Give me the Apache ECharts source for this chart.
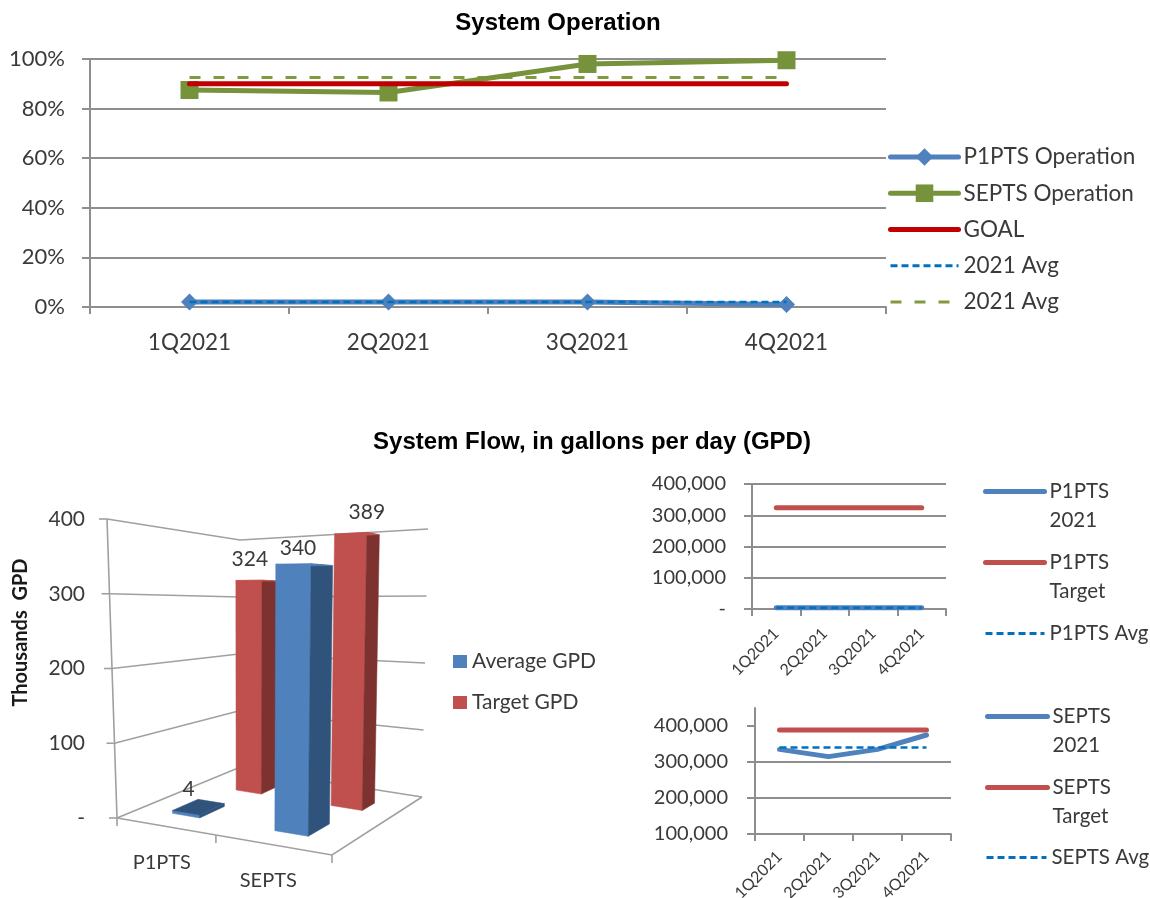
<!DOCTYPE html>
<html><head><meta charset="utf-8">
<script src="https://cdn.jsdelivr.net/npm/echarts@6/dist/echarts.min.js"></script>
<style>html,body{margin:0;padding:0;background:#fff}#c{width:1150px;height:898px}</style>
</head><body><div id="c"></div>
<script>
var quarters = ['1Q2021','2Q2021','3Q2021','4Q2021'];
var p1Operation = [2,2,2,1];
var sepOperation = [87.5,86.5,98,99.5];
var goal = [90,90,90,90];
var p1OpAvg = [2,2,2,2];
var sepOpAvg = [92.5,92.5,92.5,92.5];
var plants = ['P1PTS','SEPTS'];
var averageGpd = [4,340];
var targetGpd = [324,389];
var gpdTicks = [0,100,200,300,400];
var p1Flow = [4000,4000,4000,4000];
var p1Target = [324000,324000,324000,324000];
var p1Avg = [4000,4000,4000,4000];
var sepFlow = [335000,315000,335000,375000];
var sepTarget = [389000,389000,389000,389000];
var sepAvg = [340000,340000,340000,340000];

var FONT='Lato', TXT='#3a3a3a', GRAY='#8e8e8e';
var BLUE='#4f81bd', GREEN='#76933c', DRED='#c00000', RED='#c0504d', ABLUE='#0070c0', AGREEN='#7f9a3f';

function money(v){return v===0?'-':v.toLocaleString('en-US');}
function makeX(idx,extra){return Object.assign({type:'category',gridIndex:idx,data:quarters,boundaryGap:true,
  axisLine:{show:true,lineStyle:{color:GRAY,width:2}},
  axisTick:{show:true,alignWithLabel:false,length:7,lineStyle:{color:GRAY,width:2}}},extra||{});}
function makeY(idx,extra){return Object.assign({type:'value',gridIndex:idx,
  axisLine:{show:true,lineStyle:{color:GRAY,width:2}},
  axisTick:{show:true,length:8,lineStyle:{color:GRAY,width:2}},
  splitLine:{show:true,lineStyle:{color:GRAY,width:2}}},extra||{});}
function line(name,data,color,idx,o){o=o||{};return {type:'line',name:name,data:data,xAxisIndex:idx,yAxisIndex:idx,
  smooth:false,symbol:o.symbol||'none',symbolSize:o.size||0,showSymbol:!!o.symbol,
  itemStyle:{color:color},lineStyle:{color:color,width:o.width||5,type:o.dash||'solid',cap:o.cap||'round'},
  animation:false,z:o.z||3};}
function li(name,color,width,dash,keepSymbol){
  var d={name:name,lineStyle:{color:color,width:width,type:dash||'solid',opacity:1}};
  if(!keepSymbol){d.itemStyle={opacity:0};}
  return d;
}

/* ---- pseudo-3D projection for the bar panel ---- */
var FL=[117,818],FR=[332,855],BL=[238,768],BR=[422,797];
var HT={fl:299,fr:345,bl:228,br:268}, SH={fl:-10,fr:6,bl:2,br:6};
function bil(a,b,c,d,u,w){return (1-w)*((1-u)*a+u*b)+w*((1-u)*c+u*d);}
function proj(u,w,t){
  var x=bil(FL[0],FR[0],BL[0],BR[0],u,w), y=bil(FL[1],FR[1],BL[1],BR[1],u,w);
  return [x+t*bil(SH.fl,SH.fr,SH.bl,SH.br,u,w), y-t*bil(HT.fl,HT.fr,HT.bl,HT.br,u,w)];
}
function frac(api,params,cat,val){
  var cs=params.coordSys, p=api.coord([cat,val]);
  return {f:(p[0]-cs.x)/cs.width,t:(cs.y+cs.height-p[1])/cs.height};
}
function poly(pts,fill){return {type:'polygon',shape:{points:pts},style:{fill:fill,stroke:fill,lineWidth:0.5}};}
function barItem(row,front,side,nudges){
  return function(params,api){
    var cat=api.value(0), val=api.value(1), q=frac(api,params,cat,val);
    var uc=-0.0375+1.01*q.f+(row==='back'?0.04:0);
    var hw=0.065+(q.f-0.25)*0.03;
    var w0=row==='back'?0.68:0.2, w1=row==='back'?0.81:0.42;
    var u0=uc-hw,u1=uc+hw,t=q.t;
    var a=proj(u0,w0,0),b=proj(u1,w0,0),c=proj(u1,w1,0);
    var at=proj(u0,w0,t),bt=proj(u1,w0,t),ct=proj(u1,w1,t),dt=proj(u0,w1,t);
    var n=nudges[cat];
    return {type:'group',children:[
      poly([a,b,bt,at],front),
      poly([b,c,ct,bt],side),
      poly([at,bt,ct,dt],val<20?side:front),
      {type:'text',style:{text:String(val),x:bt[0]+n[0],y:bt[1]+n[1],fill:TXT,font:'21px '+FONT,align:'center',verticalAlign:'middle'}}
    ]};
  };
}
function wallItem(params,api){
  var v=api.value(1), t=frac(api,params,0,v).t;
  var s={stroke:'#a0a0a0',lineWidth:1.6,fill:null};
  var kids=[{type:'polyline',shape:{points:[proj(0,0,t),proj(0,1,t),proj(1,1,t)]},style:s}];
  var f=proj(0,0,t);
  kids.push({type:'line',shape:{x1:f[0]-8,y1:f[1],x2:f[0],y2:f[1]},style:s});
  if(v===0){
    kids.push({type:'polyline',shape:{points:[proj(0,0,0),proj(1,0,0),proj(1,1,0)]},style:s});
    kids.push({type:'line',shape:{x1:proj(0,0,0)[0],y1:proj(0,0,0)[1],x2:proj(0,0,1)[0],y2:proj(0,0,1)[1]},style:s});
    [0,0.46,1].forEach(function(u){var p=proj(u,0,0);
      kids.push({type:'line',shape:{x1:p[0],y1:p[1],x2:p[0],y2:p[1]+8},style:s});});
  }
  return {type:'group',children:kids};
}
function catItem(params,api){
  var cat=api.value(0), q=frac(api,params,cat,0);
  var p=proj(q.f,0,0);
  return {type:'text',style:{text:plants[cat],x:p[0]+(cat?-10:-9),y:p[1]+35,fill:TXT,font:'20px '+FONT,align:'center',verticalAlign:'middle'}};
}

function legendBase(o){return Object.assign({orient:'vertical',selectedMode:false,padding:0},o);}

var topNames={'P1PTS 2021 Avg':'2021 Avg','SEPTS 2021 Avg':'2021 Avg'};
var multi={'P1PTS 2021':'P1PTS\n2021','P1PTS Target':'P1PTS\nTarget','SEPTS 2021':'SEPTS\n2021','SEPTS Target':'SEPTS\nTarget'};
function multiFmt(n){return multi[n]?' \n'+multi[n]:' \n'+n+'\n ';}
var sideText={color:TXT,fontFamily:FONT,fontSize:20.5,lineHeight:29};
var titleText={fontFamily:'Liberation Sans',fontWeight:'bold',fontSize:24,color:'#000'};
var OB='none';

var option={
  backgroundColor:'#fff',animation:false,
  title:[
    {text:'System Operation',left:553,top:6,textAlign:'center',textStyle:titleText},
    {text:'System Flow, in gallons per day (GPD)',left:587,top:425,textAlign:'center',textStyle:titleText}
  ],
  grid:[
    {left:90,top:59,width:796,height:248,outerBoundsMode:OB},
    {left:752,top:484,width:194,height:125,outerBoundsMode:OB},
    {left:755,top:708,width:196,height:126,outerBoundsMode:OB},
    {left:107,top:519,width:321,height:299,outerBoundsMode:OB}
  ],
  xAxis:[
    makeX(0,{axisLabel:{color:TXT,fontFamily:FONT,fontSize:22.5,margin:24,interval:0}}),
    makeX(1,{axisLabel:{color:TXT,fontFamily:FONT,fontSize:16,rotate:45,margin:22,interval:0}}),
    makeX(2,{axisLabel:{color:TXT,fontFamily:FONT,fontSize:16,rotate:45,margin:20,interval:0}}),
    {type:'category',gridIndex:3,data:plants,show:false}
  ],
  yAxis:[
    makeY(0,{min:0,max:100,interval:20,axisLabel:{color:TXT,fontFamily:FONT,fontSize:22,margin:25,formatter:'{value}%'}}),
    makeY(1,{min:0,max:400000,interval:100000,axisLabel:{color:TXT,fontFamily:FONT,fontSize:20,margin:26,formatter:money}}),
    makeY(2,{min:100000,max:450000,interval:100000,
      splitLine:{show:true,showMaxLine:false,lineStyle:{color:GRAY,width:2}},
      axisTick:{show:true,length:8,lineStyle:{color:GRAY,width:2},customValues:[100000,200000,300000,400000]},
      axisLabel:{color:TXT,fontFamily:FONT,fontSize:20,margin:27,showMaxLabel:false,formatter:money}}),
    {type:'value',gridIndex:3,min:0,max:400,interval:100,
      name:'Thousands  GPD',nameLocation:'middle',nameGap:76,nameRotate:90,
      nameTextStyle:{fontFamily:FONT,fontWeight:'bold',fontSize:20,color:'#1a1a1a',padding:[0,0,0,72]},
      axisLine:{show:false},axisTick:{show:false},splitLine:{show:false},
      axisLabel:{color:TXT,fontFamily:FONT,fontSize:21,margin:22,formatter:function(v){return v===0?'-':String(v);}}}
  ],
  legend:[
    legendBase({data:[li('P1PTS Operation',BLUE,5,'solid',true),li('SEPTS Operation',GREEN,5,'solid',true),li('GOAL',DRED,5),
        li('P1PTS 2021 Avg',ABLUE,3,[7,4]),li('SEPTS 2021 Avg',AGREEN,3,[11,13])],
      left:888,top:145,itemWidth:68,itemHeight:22,itemGap:12.25,
      textStyle:{color:TXT,fontFamily:FONT,fontSize:22.5,lineHeight:24},
      formatter:function(n){return topNames[n]||n;}}),
    legendBase({data:[li('P1PTS 2021',BLUE,5),li('P1PTS Target',RED,5),li('P1PTS Avg',ABLUE,3,[7,4])],
      left:983,top:448,itemWidth:59,itemHeight:16,itemGap:-16,textStyle:sideText,formatter:multiFmt}),
    legendBase({data:[li('SEPTS 2021',BLUE,5),li('SEPTS Target',RED,5)],
      left:985,top:673,itemWidth:60,itemHeight:16,itemGap:-16,textStyle:sideText,formatter:multiFmt}),
    legendBase({data:[li('SEPTS Avg',ABLUE,3,[7,4])],
      left:985,top:843,itemWidth:60,itemHeight:16,textStyle:sideText}),
    legendBase({data:['Average GPD','Target GPD'],left:453,top:649,icon:'rect',itemWidth:14,itemHeight:13,itemGap:16,
      textStyle:{color:TXT,fontFamily:FONT,fontSize:21,lineHeight:25}})
  ],
  series:[
    line('P1PTS Operation',p1Operation,BLUE,0,{symbol:'diamond',size:17}),
    line('SEPTS Operation',sepOperation,GREEN,0,{symbol:'rect',size:18}),
    line('SEPTS 2021 Avg',sepOpAvg,AGREEN,0,{dash:[11,13],width:3,cap:'butt',z:2}),
    line('GOAL',goal,DRED,0,{width:5,z:4}),
    line('P1PTS 2021 Avg',p1OpAvg,ABLUE,0,{dash:[7,4],width:2.5,cap:'butt',z:5}),

    line('P1PTS 2021',p1Flow,BLUE,1,{}),
    line('P1PTS Target',p1Target,RED,1,{}),
    line('P1PTS Avg',p1Avg,ABLUE,1,{dash:[7,4],width:2.5,cap:'butt',z:5}),

    line('SEPTS 2021',sepFlow,BLUE,2,{}),
    line('SEPTS Target',sepTarget,RED,2,{}),
    line('SEPTS Avg',sepAvg,ABLUE,2,{dash:[7,4],width:2.5,cap:'butt',z:5}),

    {type:'custom',name:'walls',xAxisIndex:3,yAxisIndex:3,clip:false,z:1,silent:true,
      encode:{x:0,y:1},data:gpdTicks.map(function(v){return [0,v];}),renderItem:wallItem},
    {type:'custom',name:'labels',xAxisIndex:3,yAxisIndex:3,clip:false,z:1,silent:true,
      encode:{x:0,y:1},data:plants.map(function(p,i){return [i,0];}),renderItem:catItem},
    {type:'custom',name:'Target GPD',xAxisIndex:3,yAxisIndex:3,clip:false,z:2,
      itemStyle:{color:RED},encode:{x:0,y:1},
      data:targetGpd.map(function(v,i){return [i,v];}),
      renderItem:barItem('back',RED,'#7d3230',[[-12,-21],[0,-20]])},
    {type:'custom',name:'Average GPD',xAxisIndex:3,yAxisIndex:3,clip:false,z:3,
      itemStyle:{color:BLUE},encode:{x:0,y:1},
      data:averageGpd.map(function(v,i){return [i,v];}),
      renderItem:barItem('front',BLUE,'#30537c',[[-11,-26],[-13,-16]])}
  ]
};
var chart=echarts.init(document.getElementById('c'),null,{renderer:'canvas'});
chart.setOption(option);
</script></body></html>
